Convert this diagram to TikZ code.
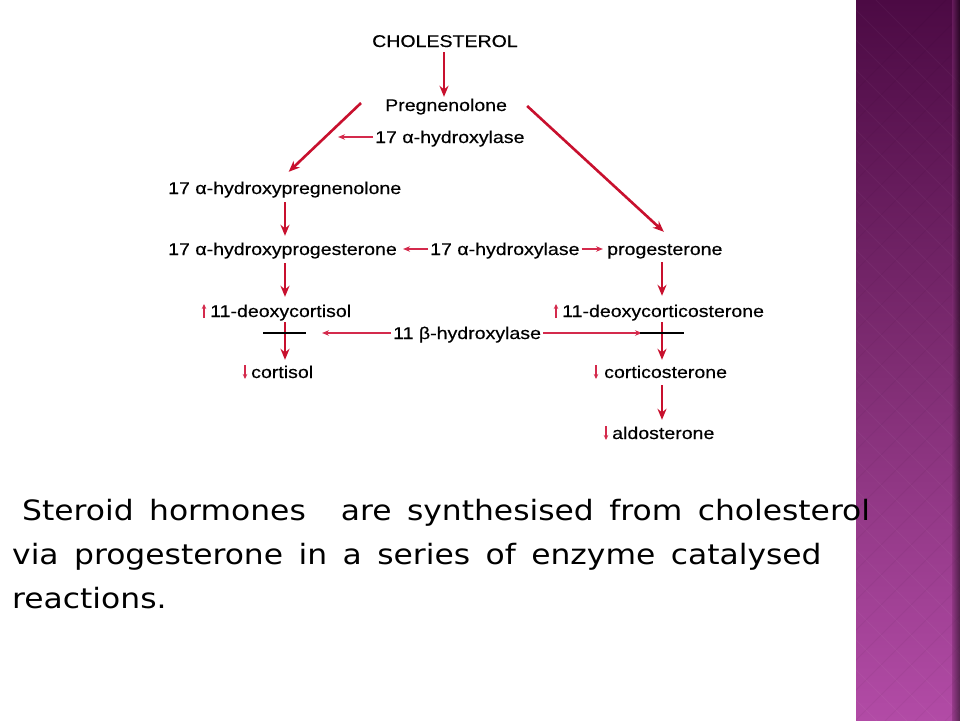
\documentclass[tikz,border=0pt]{standalone}
\usepackage{fontspec}
\usetikzlibrary{arrows.meta,calc}
\newfontfamily\dfont[FakeStretch=1.15,FakeBold=0.4]{Liberation Sans}
\newfontfamily\bfont[FakeStretch=1.12,WordSpace=1.55]{DejaVu Sans}
\definecolor{arrred}{HTML}{C8102E}
\definecolor{thinred}{HTML}{D42A4C}
\definecolor{sbtop}{HTML}{4C0A44}
\definecolor{sbmid}{HTML}{7E2C72}
\definecolor{sbbot}{HTML}{B24BA6}
\begin{document}
\begin{tikzpicture}[x=1pt,y=-1pt,
  lbl/.style={anchor=west,inner sep=0pt,text height=12pt,text depth=0pt,font=\dfont\fontsize{17}{20}\selectfont},
  bodytxt/.style={anchor=base west,inner sep=0pt,font=\bfont\fontsize{28}{34}\selectfont},
  big/.style={draw=arrred,line width=2.6pt,-{Stealth[length=11pt,width=9pt]}},
  thin/.style={draw=thinred,line width=1.3pt,-{Stealth[length=7pt,width=5.5pt]}},
  tiny/.style={draw=thinred,line width=1.3pt,-{Stealth[length=5pt,width=4.5pt]}},
  barline/.style={draw=black,line width=1.5pt}]
\useasboundingbox (0,0) rectangle (960,720);
\fill[white] (0,0) rectangle (960,720);
% sidebar
\shade[top color=sbtop,bottom color=sbmid] (856,0) rectangle (960,360);
\shade[top color=sbmid,bottom color=sbbot] (856,360) rectangle (960,720);
\begin{scope}
\clip (856,0) rectangle (960,720);
\foreach \k in {-30,0,...,780}{
  \draw[white,opacity=0.04,line width=1pt] (846,\k) -- ++(130,130);
  \draw[black,opacity=0.04,line width=1pt] (976,\k) -- ++(-130,130);
}
\end{scope}
\shade[left color=sbmid,right color=black,opacity=0.5] (952,0) rectangle (960,720);
% nodes
\node[lbl] (chol) at (372,41) {CHOLESTEROL};
\node[lbl] (preg) at (385,105) {Pregnenolone};
\node[lbl] (enzA) at (375,137) {17 α-hydroxylase};
\node[lbl] (ohpreg) at (168,188) {17 α-hydroxypregnenolone};
\node[lbl] (ohprog) at (168,249) {17 α-hydroxyprogesterone};
\node[lbl] (enzB) at (430,249) {17 α-hydroxylase};
\node[lbl] (prog) at (607,249) {progesterone};
\node[lbl] (doc) at (210,311) {11-deoxycortisol};
\node[lbl] (docs) at (562,311) {11-deoxycorticosterone};
\node[lbl] (enzC) at (393,333) {11 β-hydroxylase};
\node[lbl] (cort) at (251,372) {cortisol};
\node[lbl] (corts) at (604,372) {corticosterone};
\node[lbl] (aldo) at (612,433) {aldosterone};
\coordinate (barL) at (285,333);
\coordinate (barR) at (662,333);
% main arrows
\draw[big,shorten <=5pt,shorten >=2pt] (chol.south -| 444,0) -- (preg.north -| 444,0);
\draw[big] ($(preg.west)+(-24,-2)$) -- ($(ohpreg.north)+(4,-10)$);
\draw[big] ($(preg.east)+(20,1)$) -- ($(prog.north)+(-1,-11)$);
\draw[big,shorten <=8pt,shorten >=7pt] (ohpreg.south -| barL) -- (ohprog.north -| barL);
\draw[big,shorten <=8pt,shorten >=8pt] (ohprog.south -| barL) -- (doc.north -| barL);
\draw[big,shorten <=7pt,shorten >=9pt] (prog.south -| barR) -- (docs.north -| barR);
\draw[big,shorten <=5pt,shorten >=6pt] (doc.south -| barL) -- (cort.north -| barL);
\draw[big,shorten <=5pt,shorten >=6pt] (docs.south -| barR) -- (corts.north -| barR);
\draw[big,shorten <=7pt,shorten >=7pt] (corts.south -| barR) -- (aldo.north -| barR);
% enzyme arrows
\draw[thin,shorten <=2pt] (enzA.west) -- ($(enzA.west)+(-37,0)$);
\draw[thin,shorten <=2pt,shorten >=6pt] (enzB.west) -- (ohprog.east);
\draw[thin,shorten <=2pt,shorten >=4pt] (enzB.east) -- (prog.west);
\draw[thin,shorten <=2pt,shorten >=37pt] (enzC.west) -- (barL);
\draw[thin,shorten <=2pt,shorten >=20pt] (enzC.east) -- (barR);
% block bars
\draw[barline] ($(barL)+(-22,0)$) -- ($(barL)+(21,0)$);
\draw[barline] ($(barR)+(-22,0)$) -- ($(barR)+(22,0)$);
% small up/down marks
\draw[tiny] ($(doc.west)+(-6,7)$) -- ($(doc.west)+(-6,-7)$);
\draw[tiny] ($(docs.west)+(-6,7)$) -- ($(docs.west)+(-6,-7)$);
\draw[tiny] ($(cort.west)+(-6,-7)$) -- ($(cort.west)+(-6,7)$);
\draw[tiny] ($(corts.west)+(-8,-7)$) -- ($(corts.west)+(-8,7)$);
\draw[tiny] ($(aldo.west)+(-6,-7)$) -- ($(aldo.west)+(-6,7)$);
% body text
\node[bodytxt] (t1) at (22,520) {Steroid hormones\hspace{0.7em} are synthesised from cholesterol};
\node[bodytxt] (t2) at (12,564) {via progesterone in a series of enzyme catalysed};
\node[bodytxt] (t3) at (12,608) {reactions.};
\end{tikzpicture}
\end{document}
